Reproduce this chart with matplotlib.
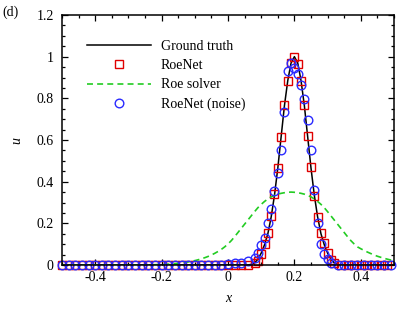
import matplotlib
matplotlib.use("Agg")
import matplotlib.pyplot as plt
import numpy as np
from matplotlib.ticker import MultipleLocator, FuncFormatter

plt.rcParams['font.family'] = ['Liberation Serif', 'DejaVu Serif']
plt.rcParams['axes.unicode_minus'] = False
plt.rcParams['font.size'] = 10
plt.rcParams['lines.scale_dashes'] = False

# grid x = -0.5 ... 0.5, step 0.01 (101 points)
x = np.linspace(-0.5, 0.5, 101)

ground_truth = [
    0, 0, 0, 0, 0, 0, 0, 0, 0, 0,
    0, 0, 0, 0, 0, 0, 0, 0, 0, 0,
    0, 0, 0, 0, 0, 0, 0, 0, 0, 0,
    0, 0, 0, 0, 0, 0, 0, 0, 0, 0,
    0, 0, 0, 0, 0, 0, 0, 0, 0, 0,
    0, 0, 0, 0, 0, 0, 0, 0.003, 0.01, 0.028,
    0.057, 0.097, 0.15, 0.23, 0.335, 0.465, 0.615, 0.765, 0.885, 0.97,
    1.0, 0.97, 0.885, 0.765, 0.615, 0.465, 0.335, 0.23, 0.15, 0.097,
    0.057, 0.028, 0.01, 0.003, 0, 0, 0, 0, 0, 0,
    0, 0, 0, 0, 0, 0, 0, 0, 0, 0,
    0,
]

roenet = [
    0, 0, 0, 0, 0, 0, 0, 0, 0, 0,
    0, 0, 0, 0, 0, 0, 0, 0, 0, 0,
    0, 0, 0, 0, 0, 0, 0, 0, 0, 0,
    0, 0, 0, 0, 0, 0, 0, 0, 0, 0,
    0, 0, 0, 0, 0, 0, 0, 0, 0, 0,
    0, 0, 0, 0, 0, 0, 0, 0.003, 0.008, 0.02,
    0.053, 0.1, 0.155, 0.237, 0.342, 0.465, 0.616, 0.77, 0.885, 0.968,
    1.0, 0.965, 0.885, 0.77, 0.62, 0.47, 0.333, 0.232, 0.152, 0.104,
    0.06, 0.024, 0.01, 0.004, 0, 0, 0, 0, 0, 0,
    0, 0, 0, 0, 0, 0, 0, 0, 0, 0,
    0,
]

roe_solver = [
    0, 0, 0, 0, 0, 0, 0, 0, 0, 0,
    0, 0, 0, 0, 0, 0, 0, 0, 0, 0,
    0, 0, 0, 0, 0, 0, 0, 0.001, 0.0015, 0.002,
    0.0025, 0.003, 0.004, 0.005, 0.0065, 0.008, 0.010, 0.012, 0.015, 0.018,
    0.021, 0.025, 0.030, 0.035, 0.041, 0.048, 0.056, 0.065, 0.075, 0.087,
    0.101, 0.117, 0.136, 0.156, 0.176, 0.196, 0.216, 0.236, 0.256, 0.275,
    0.291, 0.305, 0.317, 0.327, 0.334, 0.340, 0.344, 0.347, 0.349, 0.350,
    0.349, 0.347, 0.344, 0.340, 0.334, 0.327, 0.317, 0.305, 0.291, 0.275,
    0.256, 0.236, 0.216, 0.196, 0.176, 0.156, 0.136, 0.117, 0.101, 0.087,
    0.078, 0.070, 0.062, 0.055, 0.048, 0.042, 0.037, 0.032, 0.028, 0.024,
    0.021,
]

roenet_noise = [
    0, 0, 0, 0, 0, 0, 0, 0, 0, 0,
    0, 0, 0, 0, 0, 0, 0, 0, 0, 0,
    0, 0, 0, 0, 0, 0, 0, 0, 0, 0,
    0, 0, 0, 0, 0, 0, 0, 0, 0, 0,
    0, 0, 0, 0, 0, 0, 0, 0, 0, 0.002,
    0.004, 0.006, 0.008, 0.008, 0.009, 0.013, 0.018, 0.026, 0.036, 0.056,
    0.094, 0.132, 0.2, 0.27, 0.355, 0.44, 0.55, 0.736, 0.93, 0.97,
    0.945, 0.915, 0.862, 0.795, 0.695, 0.55, 0.362, 0.2, 0.1, 0.055,
    0.027, 0.011, 0.005, 0.002, 0, 0, 0, 0, 0, 0,
    0, 0, 0, 0, 0, 0, 0, 0, 0, 0,
    0,
]

fig = plt.figure(figsize=(4.15, 3.12), dpi=100)
ax = fig.add_axes([62 / 415, 47 / 312, 332 / 415, 250 / 312])

# markers spaced by screen distance along the curve (like the original plot)
skip = 0.016
ax.plot(x, ground_truth, color='black', lw=1.1, label='Ground truth')
ax.plot(x, roenet, ls='none', marker='s', ms=5.6, mfc='none', mec='#e00000',
        mew=1.0, markevery=skip, clip_on=False, label='RoeNet')
ax.plot(x, roe_solver, color='#22cc22', lw=1.2, dashes=(4.3, 3.0),
        label='Roe solver')
ax.plot(x, roenet_noise, ls='none', marker='o', ms=6.2, mfc='none', mec='#2a2aff',
        mew=1.0, markevery=skip, clip_on=False, label='RoeNet (noise)')

ax.set_xlim(-0.5, 0.5)
ax.set_ylim(0, 1.2)
ax.xaxis.set_major_locator(MultipleLocator(0.2))
ax.xaxis.set_minor_locator(MultipleLocator(0.05))
ax.yaxis.set_major_locator(MultipleLocator(0.2))
ax.yaxis.set_minor_locator(MultipleLocator(0.05))
fmt = FuncFormatter(lambda v, p: f'{round(v, 2) + 0.0:g}')
ax.xaxis.set_major_formatter(fmt)
ax.yaxis.set_major_formatter(fmt)

ax.tick_params(which='both', direction='in', top=True, right=True, width=0.9)
ax.tick_params(which='major', length=4.5)
ax.tick_params(which='minor', length=2.5)
ax.tick_params(axis='y', pad=6)
ax.tick_params(axis='x', pad=4)
for s in ax.spines.values():
    s.set_linewidth(1.1)

ax.set_xlabel('x', fontstyle='italic', labelpad=6)
ax.set_ylabel('u', fontstyle='italic', labelpad=9)

ax.legend(loc='upper left', bbox_to_anchor=(0.075, 0.9), frameon=False,
          handlelength=4.6, handletextpad=0.7, labelspacing=0.45,
          borderpad=0, borderaxespad=0)

fig.text(2 / 415, 1 - 12 / 312, '(d)', va='center', ha='left')

fig.savefig('out.png', dpi=100)
